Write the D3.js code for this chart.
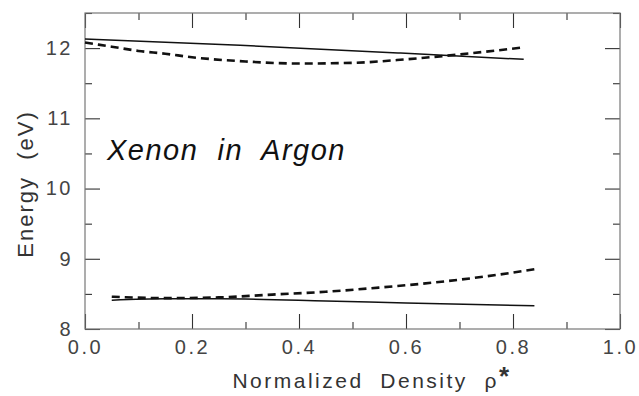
<!DOCTYPE html>
<html>
<head>
<meta charset="utf-8">
<script src="https://cdn.jsdelivr.net/npm/d3@7"></script>
<style>
  body { margin: 0; background: #fff; }
  text { font-family: "Liberation Sans", Arial, sans-serif; }
</style>
</head>
<body>
<div id="chart"></div>
<script>
// density values and energies
const upperSolidRho = [0.0, 0.29, 0.59, 0.82];
const upperSolidE = [12.13, 12.04, 11.93, 11.84];

const upperDashRho = [0.0, 0.05, 0.1, 0.15, 0.2, 0.3, 0.4, 0.5, 0.6, 0.7, 0.82];
const upperDashE = [12.08, 12.02, 11.96, 11.92, 11.87, 11.81, 11.78, 11.79, 11.84, 11.91, 12.01];

const lowerSolidRho = [0.05, 0.15, 0.25, 0.45, 0.6, 0.84];
const lowerSolidE = [8.41, 8.43, 8.43, 8.40, 8.37, 8.33];

const lowerDashRho = [0.05, 0.15, 0.25, 0.35, 0.45, 0.55, 0.65, 0.75, 0.84];
const lowerDashE = [8.46, 8.44, 8.45, 8.49, 8.53, 8.59, 8.66, 8.75, 8.85];

const xMajor = [0, 0.2, 0.4, 0.6, 0.8, 1.0];
const xMinor = [0.1, 0.3, 0.5, 0.7, 0.9];
const yMajor = [8, 9, 10, 11, 12];
const yMinor = [8.5, 9.5, 10.5, 11.5, 12.5];

const width = 639, height = 396;
const margin = { top: 13, right: 19, bottom: 67, left: 85 };
const w = width - margin.left - margin.right;
const h = height - margin.top - margin.bottom;

const svg = d3.select('#chart')
  .append('svg')
  .attr('width', width)
  .attr('height', height);

const g = svg.append('g')
  .attr('transform', 'translate(' + margin.left + ',' + margin.top + ')');

const x = d3.scaleLinear().domain([0, 1]).range([0, w]);
const y = d3.scaleLinear().domain([8, 12.5]).range([h, 0]);

function styleAxis(sel) {
  sel.select('.domain').remove();
  sel.selectAll('.tick line').attr('stroke', '#333').attr('stroke-width', 1.1);
  sel.selectAll('.tick text')
    .attr('fill', '#444')
    .style('font-size', '20px')
    .style('letter-spacing', '2.5px');
}

// bottom
g.append('g').attr('transform', 'translate(0,' + h + ')')
  .call(d3.axisBottom(x).tickValues(xMajor).tickSize(-15).tickPadding(11).tickFormat(d3.format('.1f')))
  .call(styleAxis);
g.append('g').attr('transform', 'translate(0,' + h + ')')
  .call(d3.axisBottom(x).tickValues(xMinor).tickSize(-7).tickFormat(''))
  .call(styleAxis);
// top
g.append('g')
  .call(d3.axisTop(x).tickValues(xMajor).tickSize(-15).tickFormat(''))
  .call(styleAxis);
g.append('g')
  .call(d3.axisTop(x).tickValues(xMinor).tickSize(-7).tickFormat(''))
  .call(styleAxis);
// left
g.append('g')
  .call(d3.axisLeft(y).tickValues(yMajor).tickSize(-15).tickPadding(12).tickFormat(d3.format('d')))
  .call(styleAxis);
g.append('g')
  .call(d3.axisLeft(y).tickValues(yMinor).tickSize(-7).tickFormat(''))
  .call(styleAxis);
// right
g.append('g').attr('transform', 'translate(' + w + ',0)')
  .call(d3.axisRight(y).tickValues(yMajor).tickSize(-15).tickFormat(''))
  .call(styleAxis);
g.append('g').attr('transform', 'translate(' + w + ',0)')
  .call(d3.axisRight(y).tickValues(yMinor).tickSize(-7).tickFormat(''))
  .call(styleAxis);

// frame
g.append('rect')
  .attr('width', w).attr('height', h)
  .attr('fill', 'none')
  .attr('stroke', '#777')
  .attr('stroke-width', 1.2);

const line = d3.line()
  .x(d => x(d[0]))
  .y(d => y(d[1]))
  .curve(d3.curveMonotoneX);

const series = [
  { rho: upperSolidRho, e: upperSolidE, dash: null },
  { rho: upperDashRho, e: upperDashE, dash: '8,5' },
  { rho: lowerSolidRho, e: lowerSolidE, dash: null },
  { rho: lowerDashRho, e: lowerDashE, dash: '8,5' }
];

series.forEach(s => {
  g.append('path')
    .datum(d3.zip(s.rho, s.e))
    .attr('d', line)
    .attr('fill', 'none')
    .attr('stroke', '#111')
    .attr('stroke-width', s.dash ? 2.6 : 1.5)
    .attr('stroke-dasharray', s.dash);
});

// labels
g.append('text')
  .attr('x', 22).attr('y', 147)
  .attr('fill', '#111')
  .style('font-size', '29px')
  .style('font-style', 'italic')
  .style('letter-spacing', '1.5px')
  .style('white-space', 'pre')
  .text('Xenon  in  Argon');

const xt = svg.append('text')
  .attr('x', 372).attr('y', 388)
  .attr('text-anchor', 'middle')
  .attr('fill', '#333')
  .style('font-size', '21px')
  .style('letter-spacing', '2.5px')
  .style('white-space', 'pre');
xt.append('tspan').text('Normalized  Density  ρ');
xt.append('tspan').attr('dy', -3).style('font-size', '26px').style('font-weight', 'bold').text('*');

svg.append('text')
  .attr('transform', 'translate(33,184) rotate(-90)')
  .attr('text-anchor', 'middle')
  .attr('fill', '#333')
  .style('font-size', '22px')
  .style('letter-spacing', '2px')
  .style('white-space', 'pre')
  .text('Energy  (eV)');
</script>
</body>
</html>
